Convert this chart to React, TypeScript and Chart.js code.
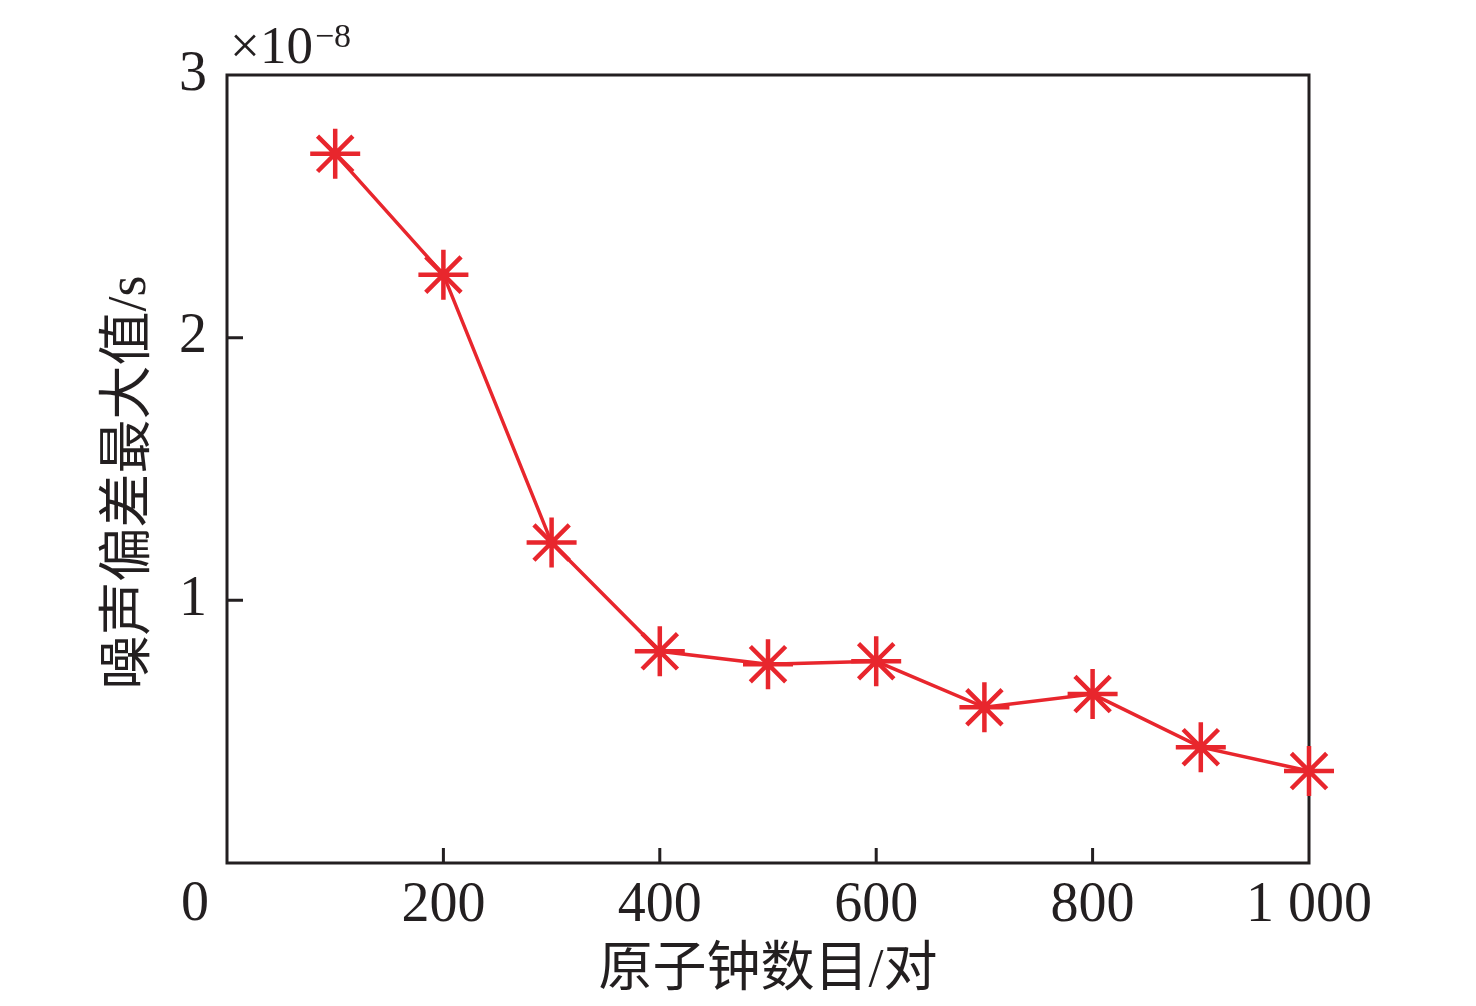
import React, { useEffect, useRef } from 'react';
import { Chart, registerables } from 'chart.js';

Chart.register(...registerables);

// number of atomic clock pairs
const clockPairs = [100, 200, 300, 400, 500, 600, 700, 800, 900, 1000];
// max noise deviation, in units of 1e-8 s
const maxNoiseDev = [2.70, 2.24, 1.22, 0.806, 0.757, 0.768, 0.593, 0.643, 0.441, 0.35];
const xTicks = [0, 200, 400, 600, 800, 1000];
const yTicks = [0, 1, 2, 3];

const ink = '#231f20';
const red = '#e8262d';
const serif = '"Liberation Serif", "Times New Roman", "Noto Sans CJK SC", serif';

const boxPlugin = {
  id: 'box',
  beforeDatasetsDraw(chart: any) {
    const { ctx, chartArea: a, scales } = chart;
    ctx.save();
    ctx.strokeStyle = ink;
    ctx.lineWidth = 3;
    ctx.strokeRect(a.left, a.top, a.right - a.left, a.bottom - a.top);
    ctx.beginPath();
    xTicks.slice(1, -1).forEach((v) => {
      const px = scales.x.getPixelForValue(v);
      ctx.moveTo(px, a.bottom);
      ctx.lineTo(px, a.bottom - 15);
    });
    yTicks.slice(1, -1).forEach((v) => {
      const py = scales.y.getPixelForValue(v);
      ctx.moveTo(a.left, py);
      ctx.lineTo(a.left + 16, py);
    });
    ctx.stroke();
    ctx.restore();
  },
  afterDraw(chart: any) {
    const { ctx, chartArea: a } = chart;
    ctx.save();
    ctx.fillStyle = ink;
    // shared origin label
    ctx.font = `56px ${serif}`;
    ctx.textAlign = 'center';
    ctx.textBaseline = 'alphabetic';
    ctx.fillText('0', 195, 920);
    // exponent
    ctx.textAlign = 'left';
    ctx.font = `53px ${serif}`;
    ctx.fillText('×10', a.left + 3, 63);
    const w = ctx.measureText('×10').width;
    ctx.font = `34px ${serif}`;
    ctx.fillText('−8', a.left + 3 + w + 2, 47);
    ctx.restore();
  },
};

export default function App() {
  const ref = useRef<HTMLCanvasElement>(null);
  useEffect(() => {
    document.body.style.margin = '0';
    if (!ref.current) return;
    const chart = new Chart(ref.current, {
      type: 'line',
      data: {
        datasets: [
          {
            data: clockPairs.map((x, i) => ({ x, y: maxNoiseDev[i] })),
            borderColor: red,
            borderWidth: 3.5,
            pointStyle: 'star',
            pointRadius: 25,
            pointBorderWidth: 4.5,
            pointBorderColor: red,
            pointBackgroundColor: red,
            tension: 0,
            clip: false,
          },
        ],
      },
      options: {
        animation: false,
        responsive: true,
        maintainAspectRatio: false,
        layout: { padding: { top: 75, right: 167, left: 0, bottom: 0 } },
        plugins: { legend: { display: false }, tooltip: { enabled: false } },
        scales: {
          x: {
            type: 'linear',
            min: 0,
            max: 1000,
            afterFit: (s: any) => { s.height = 143; },
            afterBuildTicks: (s: any) => { s.ticks = xTicks.map((value) => ({ value })); },
            grid: { display: false, drawTicks: false, tickLength: 0 },
            border: { display: false },
            ticks: {
              color: ink,
              font: { family: serif, size: 56 },
              padding: 10,
              maxRotation: 0,
              callback: (v: any) => (v === 0 ? '' : v >= 1000 ? '1 000' : String(v)),
            },
            title: {
              display: true,
              text: '原子钟数目/对',
              color: ink,
              font: { family: serif, size: 54 },
              padding: { top: 0, bottom: 2 },
            },
          },
          y: {
            type: 'linear',
            min: 0,
            max: 3,
            afterFit: (s: any) => { s.width = 227; },
            afterBuildTicks: (s: any) => { s.ticks = yTicks.map((value) => ({ value })); },
            grid: { display: false, drawTicks: false, tickLength: 0 },
            border: { display: false },
            ticks: {
              color: ink,
              font: { family: serif, size: 56 },
              padding: 20,
              callback: (v: any) => (v === 0 ? '' : String(v)),
            },
            title: {
              display: true,
              text: '噪声偏差最大值/s  ',
              color: ink,
              font: { family: serif, size: 54 },
              padding: { top: 98, bottom: 0 },
            },
          },
        },
      },
      plugins: [boxPlugin],
    });
    return () => chart.destroy();
  }, []);
  return (
    <div style={{ width: 1476, height: 1006, position: 'relative' }}>
      <canvas ref={ref} />
    </div>
  );
}
